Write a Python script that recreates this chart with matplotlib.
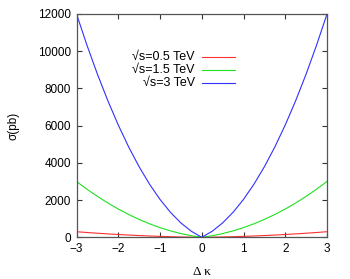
import matplotlib
matplotlib.use("Agg")
import matplotlib.pyplot as plt

# Delta kappa values and cross sections (pb)
dk = [-3.0, -2.75, -2.5, -2.25, -2.0, -1.75, -1.5, -1.25, -1.0, -0.75, -0.5, -0.25, 0.0,
      0.25, 0.5, 0.75, 1.0, 1.25, 1.5, 1.75, 2.0, 2.25, 2.5, 2.75, 3.0]
sig_05 = [300, 258, 219, 183, 150, 121, 94, 70, 50, 33, 19, 8, 0,
          8, 19, 33, 50, 70, 94, 121, 150, 183, 219, 258, 300]
sig_15 = [3000, 2585, 2200, 1845, 1520, 1225, 960, 725, 520, 345, 200, 85, 0,
          85, 200, 345, 520, 725, 960, 1225, 1520, 1845, 2200, 2585, 3000]
sig_3 = [12000, 10325, 8773, 7343, 6036, 4852, 3791, 2852, 2036, 1343, 773, 325, 0,
         325, 773, 1343, 2036, 2852, 3791, 4852, 6036, 7343, 8773, 10325, 12000]

labels = ["√s=0.5 TeV", "√s=1.5 TeV", "√s=3 TeV"]
colors = ["#ff3030", "#20e020", "#3030ff"]

plt.rcParams["font.family"] = ["Liberation Sans", "DejaVu Sans"]

fig = plt.figure(figsize=(3.5, 2.79), dpi=100)
ax = fig.add_axes([76.5 / 350, 1 - 237.3 / 279, 250.5 / 350, 223.3 / 279])

for y, c in zip([sig_05, sig_15, sig_3], colors):
    ax.plot(dk, y, color=c, lw=0.8)

ax.set_xlim(-3, 3)
ax.set_ylim(0, 12000)
ax.set_xticks(range(-3, 4))
ax.set_yticks(range(0, 12001, 2000))
ax.tick_params(direction="in", top=True, right=True, length=3.5, width=0.8,
               labelsize=8.5, pad=4, color="#333333")
for s in ax.spines.values():
    s.set_linewidth(0.9)
    s.set_color("#555555")

ax.set_ylabel("σ(pb)", fontsize=8.5, labelpad=13)
ax.set_xlabel("Δ κ", fontsize=9.5, family="Liberation Serif", labelpad=8)

# key, gnuplot style: right aligned text then a short line
rows = [0.809, 0.749, 0.692]
for lab, c, yy in zip(labels, colors, rows):
    ax.text(0.473, yy, lab, transform=ax.transAxes, ha="right", va="center", fontsize=9)
    ax.plot([0.501, 0.633], [yy, yy], transform=ax.transAxes, color=c, lw=0.8)

fig.savefig("out.png", dpi=100)
